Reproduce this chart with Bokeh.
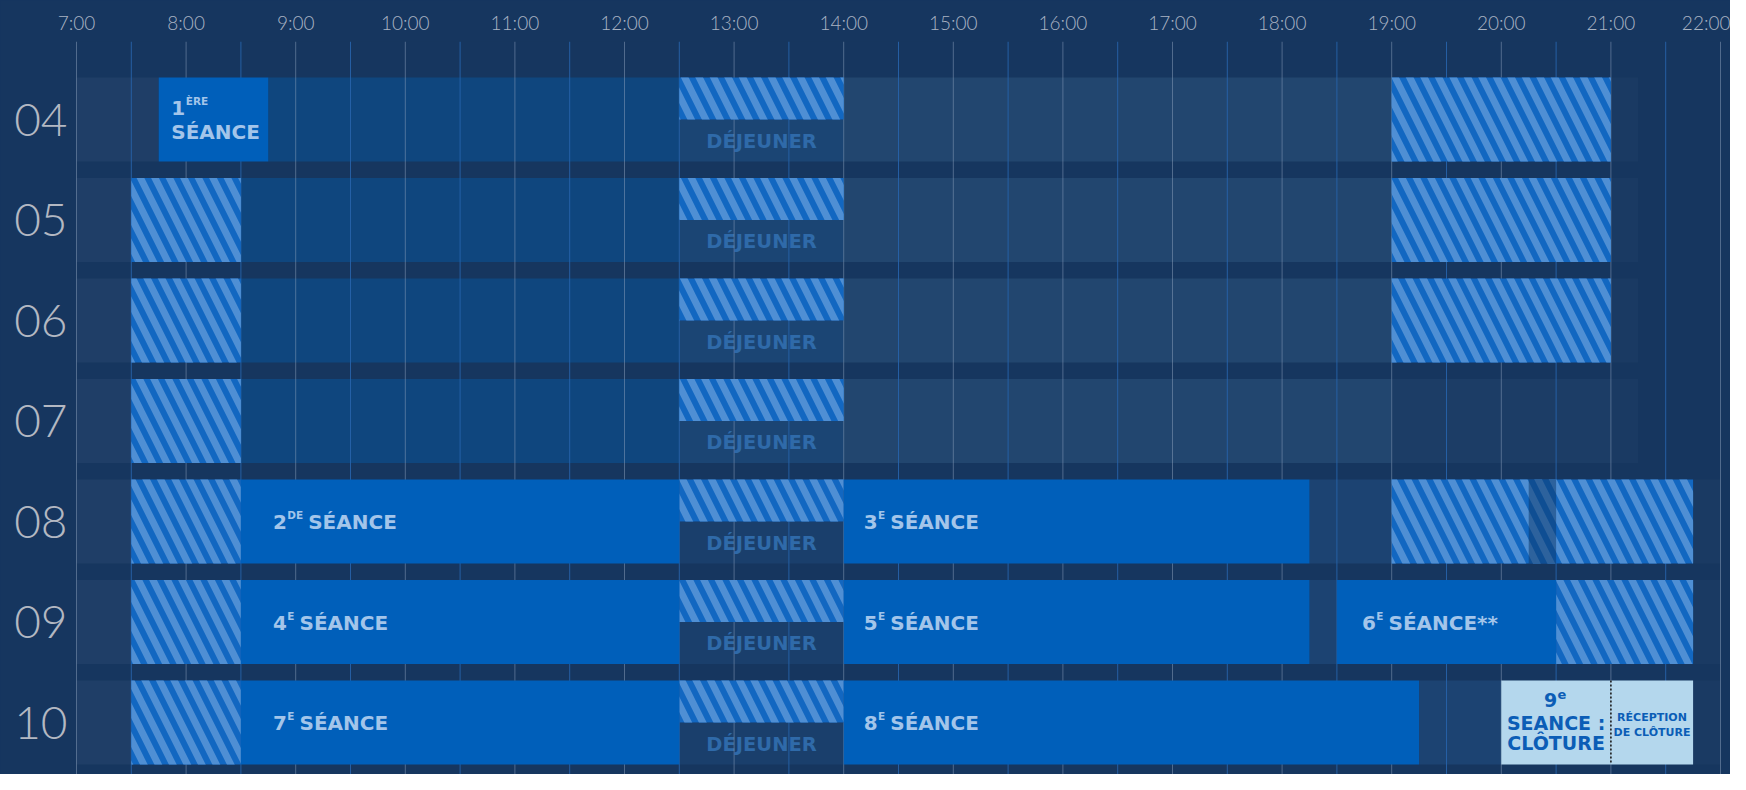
from bokeh.plotting import figure
from bokeh.models import Range1d, FixedTicker
from bokeh.core.properties import value
from bokeh.embed import file_html
from bokeh.resources import INLINE

# ---------------- data ----------------
days = ["04", "05", "06", "07", "08", "09", "10"]
hour_ticks = list(range(7, 23))
tick_labels = [f"{h}:00" for h in hour_ticks]
half_ticks = [h + 0.5 for h in range(7, 22)]

# sessions (bright blue)
sess_day = ["04", "08", "08", "09", "09", "09", "10", "10"]
sess_start = [7.75, 8.5, 14.0, 8.5, 14.0, 18.5, 8.5, 14.0]
sess_end = [8.75, 12.5, 18.25, 12.5, 18.25, 20.5, 12.5, 19.25]
sess_num = ["1", "2", "3", "4", "5", "6", "7", "8"]
sess_sup = ["ÈRE", "DE", "E", "E", "E", "E", "E", "E"]
sess_rest = ["SÉANCE", "SÉANCE", "SÉANCE", "SÉANCE", "SÉANCE", "SÉANCE**", "SÉANCE", "SÉANCE"]

# hatched breaks: full-height
brk_day = ["05", "06", "07", "08", "09", "10", "04", "05", "06", "08", "09"]
brk_start = [7.5, 7.5, 7.5, 7.5, 7.5, 7.5, 19.0, 19.0, 19.0, 19.0, 20.5]
brk_end = [8.5, 8.5, 8.5, 8.5, 8.5, 8.5, 21.0, 21.0, 21.0, 21.75, 21.75]

# lunch (top half hatched, bottom half "DÉJEUNER")
lunch_day = days
lunch_start = [12.5] * 7
lunch_end = [14.0] * 7
lunch_label = "DÉJEUNER"

# overlap shading in evening of day 08
ovl_day = ["08"]
ovl_start = [20.25]
ovl_end = [20.5]

# faded bands
band_day = ["04", "04", "04", "04",
            "05", "05", "05", "05",
            "06", "06", "06", "06",
            "07", "07", "07", "07", "07",
            "08", "08", "08",
            "09", "09", "09",
            "10", "10", "10"]
band_start = [7.0, 8.75, 14.0, 21.0,
              7.0, 8.5, 14.0, 21.0,
              7.0, 8.5, 14.0, 21.0,
              7.0, 8.5, 14.0, 19.0, 21.0,
              7.0, 18.25, 21.75,
              7.0, 18.25, 21.75,
              7.0, 19.25, 21.75]
band_end = [7.75, 12.5, 19.0, 21.25,
            7.5, 12.5, 19.0, 21.25,
            7.5, 12.5, 19.0, 21.25,
            7.5, 12.5, 19.0, 21.0, 21.25,
            7.5, 19.0, 22.0,
            7.5, 18.5, 22.0,
            7.5, 20.0, 22.0]
band_kind = ["early", "morning", "afternoon", "tail",
             "early", "morning", "afternoon", "tail",
             "early", "morning", "afternoon", "tail",
             "early", "morning", "afternoon", "evening", "tail",
             "early", "gap", "tail",
             "early", "gap", "tail",
             "early", "gap", "tail"]

# closing
close_day = ["10", "10"]
close_start = [20.0, 21.0]
close_end = [21.0, 21.75]
close_lines = [["SEANCE :", "CLÔTURE"], ["RÉCEPTION", "DE CLÔTURE"]]
close_num = "9"
close_sup = "e"

# ---------------- styles ----------------
BG = "#16365f"
KIND_COL = {"early": "#1f3e67", "morning": "#0f467e", "afternoon": "#22466f",
            "evening": "#1c3d66", "gap": "#1c4372", "tail": "#1a3a63"}
SESS_COL = "#005fba"
SESS_TXT = "#a3c5ea"
HATCH_BASE = "#1267c1"
HATCH_LINE = "#4f8fd4"
LUNCH_LOW_FADED = "#1b4574"
LUNCH_LOW_BRIGHT = "#1a3f6c"
DEJ_TXT = "#2f6aa9"
CLOSE_FILL = "#b4d7ed"
CLOSE_TXT = "#0b5db6"
BOLD_FONT = "DejaVu Sans"

PPH = 109.6    # px per hour
PPR = 100.5    # px per row
X7 = 76.0      # canvas x of 7:00
ROW0 = 119.0   # canvas y of first row centre
BAR_H = 83.8 / PPR
HALF = BAR_H / 2

W_CANVAS, H_CANVAS = 1730, 774
FRAME_L, FRAME_T = 70, 41
x0 = 7 + (FRAME_L - X7) / PPH
x1 = 7 + (W_CANVAS - X7) / PPH
y_top = (FRAME_T - ROW0) / PPR
y_bot = (H_CANVAS - ROW0) / PPR

row = {d: i for i, d in enumerate(days)}


def dx(px):
    return px / PPH


def dy(px):
    return px / PPR


p = figure(width=W_CANVAS, height=H_CANVAS, output_backend="svg", toolbar_location=None,
           x_range=Range1d(x0, x1), y_range=Range1d(y_bot, y_top),
           x_axis_location="above", min_border_left=FRAME_L, min_border_top=FRAME_T,
           min_border_right=0, min_border_bottom=0)
p.background_fill_color = BG
p.border_fill_color = BG
p.outline_line_color = None
p.styles = {"background-color": BG}
p.xgrid.visible = False
p.ygrid.visible = False

xa = p.xaxis[0]
xa.ticker = FixedTicker(ticks=hour_ticks)
xa.major_label_overrides = {h: l for h, l in zip(hour_ticks, tick_labels)}
xa.axis_line_color = None
xa.major_tick_line_color = None
xa.minor_tick_line_color = None
xa.major_tick_out = 0
xa.major_tick_in = 0
xa.minor_tick_out = 0
xa.major_label_text_font = "Lato Light"
xa.major_label_text_font_size = "19px"
xa.major_label_text_color = "#a9b3c3"
xa.major_label_standoff = 8

ya = p.yaxis[0]
ya.ticker = FixedTicker(ticks=list(range(len(days))))
ya.major_label_overrides = {i: d for i, d in enumerate(days)}
ya.axis_line_color = None
ya.major_tick_line_color = None
ya.minor_tick_line_color = None
ya.major_tick_out = 0
ya.major_tick_in = 0
ya.minor_tick_out = 0
ya.major_label_text_font = "Lato Light"
ya.major_label_text_font_size = "46px"
ya.major_label_text_color = "#b3b8c2"
ya.major_label_standoff = 3

# faded bands
p.quad(left=band_start, right=band_end,
       top=[row[d] - HALF for d in band_day], bottom=[row[d] + HALF for d in band_day],
       fill_color=[KIND_COL[k] for k in band_kind], line_color=None)

# lunch lower halves
p.quad(left=lunch_start, right=lunch_end,
       top=[row[d] for d in lunch_day], bottom=[row[d] + HALF for d in lunch_day],
       fill_color=[LUNCH_LOW_FADED if row[d] < 4 else LUNCH_LOW_BRIGHT for d in lunch_day],
       line_color=None)
p.text(x=[(a + b) / 2 for a, b in zip(lunch_start, lunch_end)],
       y=[row[d] + HALF / 2 + dy(1) for d in lunch_day],
       text=[lunch_label] * len(lunch_day), text_align="center", text_baseline="alphabetic",
       text_font=value(BOLD_FONT), text_font_style="bold", text_font_size="19.5px",
       text_color=DEJ_TXT)

# gridlines
p.segment(x0=half_ticks, x1=half_ticks, y0=[y_top] * len(half_ticks), y1=[y_bot] * len(half_ticks),
          line_color="#2763ab", line_width=1, line_alpha=0.9)
p.segment(x0=hour_ticks, x1=hour_ticks, y0=[y_top] * len(hour_ticks), y1=[y_bot] * len(hour_ticks),
          line_color="#8c9fbb", line_width=1, line_alpha=0.5)

HATCH = dict(fill_color=HATCH_BASE, line_color=None, hatch_pattern="left_diagonal_line",
             hatch_color=HATCH_LINE, hatch_weight=7, hatch_scale=29)

# hatched breaks
p.quad(left=brk_start, right=brk_end,
       top=[row[d] - HALF for d in brk_day], bottom=[row[d] + HALF for d in brk_day], **HATCH)
p.quad(left=lunch_start, right=lunch_end,
       top=[row[d] - HALF for d in lunch_day], bottom=[row[d] for d in lunch_day], **HATCH)
p.quad(left=ovl_start, right=ovl_end,
       top=[row[d] - HALF for d in ovl_day], bottom=[row[d] + HALF for d in ovl_day],
       fill_color="#0b3566", fill_alpha=0.5, line_color=None)

# sessions
p.quad(left=sess_start, right=sess_end,
       top=[row[d] - HALF for d in sess_day], bottom=[row[d] + HALF for d in sess_day],
       fill_color=SESS_COL, line_color=None)

W = {"E": 0.683, "È": 0.683, "É": 0.683, "D": 0.830, "R": 0.770, "e": 0.678}
NUM_SIZE, SUP_SIZE = 20, 10.5
CAP = 0.73 * NUM_SIZE
pads = [12.6, 32, 20, 32, 20, 25, 32, 20]
nx, ny, sx, sy, rx, ry, rt, st, nt = [], [], [], [], [], [], [], [], []
for i, d in enumerate(sess_day):
    hx = sess_start[i] + dx(pads[i])
    sup_w = sum(W.get(c, 0.7) for c in sess_sup[i]) * SUP_SIZE
    num_w = 0.696 * NUM_SIZE
    if i == 0:
        base = row[d] - dy(12)
        nx.append(hx); ny.append(base)
        sx.append(hx + dx(num_w + 0.5)); sy.append(base - dy(CAP - 0.73 * SUP_SIZE))
        rx.append(hx); ry.append(row[d] + dy(12))
    else:
        base = row[d] + dy(0.5)
        nx.append(hx); ny.append(base)
        sx.append(hx + dx(num_w + 0.5)); sy.append(base - dy(CAP - 0.73 * SUP_SIZE))
        rx.append(hx + dx(num_w + sup_w + 5.5)); ry.append(base)
    nt.append(sess_num[i]); st.append(sess_sup[i]); rt.append(sess_rest[i])

TXT = dict(text_font=value(BOLD_FONT), text_font_style="bold", text_color=SESS_TXT,
           text_baseline="alphabetic", text_align="left")
p.text(x=nx, y=ny, text=nt, text_font_size=f"{NUM_SIZE}px", **TXT)
p.text(x=sx, y=sy, text=st, text_font_size=f"{SUP_SIZE}px", **TXT)
p.text(x=rx, y=ry, text=rt, text_font_size=f"{NUM_SIZE}px", **TXT)

# closing boxes
p.quad(left=close_start, right=close_end,
       top=[row[d] - HALF for d in close_day], bottom=[row[d] + HALF for d in close_day],
       fill_color=CLOSE_FILL, line_color=None)
p.segment(x0=[close_start[1]], x1=[close_start[1]],
          y0=[row[close_day[1]] - HALF], y1=[row[close_day[1]] + HALF],
          line_color="#1b1b1b", line_width=1.6, line_dash="2 2")

r10 = row[close_day[0]]
cx0 = (close_start[0] + close_end[0]) / 2
CT = dict(text_font=value(BOLD_FONT), text_font_style="bold", text_color=CLOSE_TXT,
          text_baseline="alphabetic")
p.text(x=[cx0 + dx(1)], y=[r10 - dy(22.5)], text=[close_num], text_align="right",
       text_font_size="19px", **CT)
p.text(x=[cx0 + dx(1.5)], y=[r10 - dy(28)], text=[close_sup], text_align="left",
       text_font_size="13px", **CT)
p.text(x=[cx0, cx0], y=[r10 + dy(0), r10 + dy(20.5)], text=close_lines[0], text_align="center",
       text_font_size="19px", **CT)
cx1 = (close_start[1] + close_end[1]) / 2
p.text(x=[cx1, cx1], y=[r10 - dy(5.5), r10 + dy(9.5)], text=close_lines[1], text_align="center",
       text_font_size="11px", **CT)

open("out.html", "w").write(file_html(p, INLINE))
